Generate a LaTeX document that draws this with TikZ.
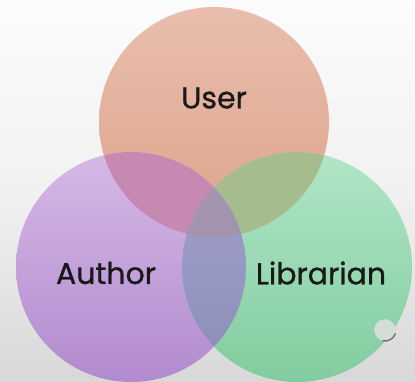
\documentclass[tikz,border=0pt]{standalone}
\usepackage{fontspec}
\setmainfont{Poppins}[FakeBold=0.9]
\begin{document}
\begin{tikzpicture}[x=1pt,y=-1pt,
  lbl/.style={font=\fontsize{30}{34}\selectfont, text=black!90}]
\definecolor{bgTop}{HTML}{FCFCFC}
\definecolor{bgBot}{HTML}{D8D8D8}
\definecolor{uT}{HTML}{E9BEAD}
\definecolor{uB}{HTML}{DDA38A}
\definecolor{aT}{HTML}{D6B9E7}
\definecolor{aB}{HTML}{B28ACE}
\definecolor{lT}{HTML}{B0E6C7}
\definecolor{lB}{HTML}{82CC9F}
\definecolor{uaC}{HTML}{C68AB2}
\definecolor{ulC}{HTML}{A4BC8E}
\definecolor{alT}{HTML}{A2A3CC}
\definecolor{alB}{HTML}{8C8CBA}
\definecolor{ualC}{HTML}{A493AE}
\def\U{(214,122) circle[radius=115]}
\def\A{(131,267) circle[radius=115]}
\def\L{(297,267) circle[radius=115]}
\useasboundingbox (0,0) rectangle (415,381);
\shade[top color=bgTop, bottom color=bgBot, middle color=bgTop!70!bgBot] (0,0) rectangle (415,381);
% circles
\path[top color=uT, bottom color=uB] \U;
\path[top color=aT, bottom color=aB] \A;
\path[top color=lT, bottom color=lB] \L;
% overlaps
\begin{scope}
  \clip \U; \fill[uaC] \A;
\end{scope}
\begin{scope}
  \clip \U; \fill[ulC] \L;
\end{scope}
\begin{scope}
  \clip \A; \clip \L; \path[top color=alT, bottom color=alB] (180,150) rectangle (250,382);
\end{scope}
\begin{scope}
  \clip \A; \clip \L; \clip \U; \fill[ualC] (180,150) rectangle (250,240);
\end{scope}
% small button
\node[circle, minimum size=21pt, inner sep=0pt, fill=lB!45!gray!35!white, draw=black!15, line width=0.5pt] (btn) at (385,330) {};
\draw[black!55, line width=1.4pt, line cap=round] ([shift={(-20:11pt)}]btn.center) arc[start angle=-20, end angle=-100, radius=11pt];
% labels
\node[lbl] (tuser) at (214,98) {User};
\node[lbl] (tauth) at (106,273) {Author};
\node[lbl] (tlib) at (321,273) {Librarian};
\end{tikzpicture}
\end{document}
